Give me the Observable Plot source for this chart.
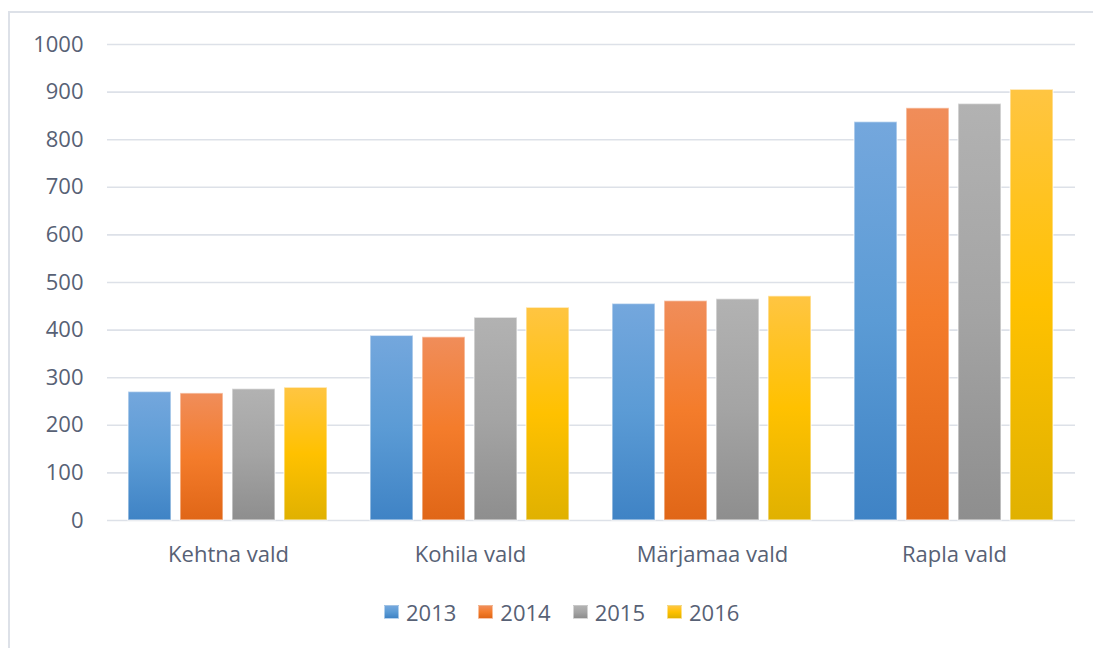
<!DOCTYPE html>
<html><head><meta charset="utf-8">
<script src="https://cdn.jsdelivr.net/npm/d3@7"></script>
<script src="https://cdn.jsdelivr.net/npm/@observablehq/plot@0.6"></script>
<style>
html,body{margin:0;padding:0;background:#fff;overflow:hidden;}
body{width:1093px;height:648px;position:relative;font-family:"Open Sans",sans-serif;}
#frame{position:absolute;left:8px;top:11px;width:1200px;height:800px;border:2px solid #dde1e8;box-sizing:border-box;}
#chart{position:absolute;left:0;top:0;}
#legend{position:absolute;top:597px;left:384px;display:flex;align-items:center;font-size:22px;color:#576175;}
.item{display:flex;align-items:center;margin-right:22px;}
.sw{width:15px;height:14px;margin-right:7px;box-sizing:border-box;border:1px solid rgba(255,255,255,0.5);}
</style></head>
<body>
<div id="frame"></div>
<div id="chart"></div>
<div id="legend"></div>
<script>
const categories = ["Kehtna vald", "Kohila vald", "Märjamaa vald", "Rapla vald"];
const years = ["2013", "2014", "2015", "2016"];
const v2013 = [270, 388, 455, 837];
const v2014 = [267, 385, 461, 866];
const v2015 = [276, 426, 465, 875];
const v2016 = [279, 447, 471, 905];
const yTicks = [0, 100, 200, 300, 400, 500, 600, 700, 800, 900, 1000];
const gradients = {
  "2013": ["#74a7dd", "#5b9bd5", "#3f83c5"],
  "2014": ["#f08d5a", "#f47c2b", "#e06617"],
  "2015": ["#b2b2b2", "#a4a4a4", "#8e8e8e"],
  "2016": ["#ffc542", "#ffc100", "#e0b100"]
};

const series = [v2013, v2014, v2015, v2016];
const data = [];
categories.forEach((c, i) => years.forEach((y, j) => data.push({cat: c, year: y, value: series[j][i]})));

const textColor = "#576175";
const chart = Plot.plot({
  width: 1093,
  height: 580,
  marginLeft: 106,
  marginRight: 18,
  marginTop: 44,
  marginBottom: 60,
  style: {fontFamily: "Open Sans", color: textColor, background: "transparent"},
  fx: {domain: categories, padding: 0, label: null},
  x: {domain: years, paddingInner: 0.17, paddingOuter: 0.41, axis: null},
  y: {domain: [0, 1000], label: null},
  color: {domain: years, range: years.map(y => `url(#g${y})`)},
  marks: [
    Plot.gridY(yTicks, {stroke: "#dde1e8", strokeOpacity: 1, strokeWidth: 1.6}),
    Plot.axisY(yTicks, {tickSize: 0, tickPadding: 24, fontSize: 22, label: null, tickFormat: d => String(d)}),
    Plot.axisFx({anchor: "bottom", tickSize: 0, tickPadding: 26, fontSize: 22, label: null}),
    Plot.barY(data, {fx: "cat", x: "year", y: "value", fill: "year", stroke: "white", strokeOpacity: 0.55, strokeWidth: 1.5})
  ]
});

const svg = d3.select(chart);
const defs = svg.insert("defs", ":first-child");
years.forEach(y => {
  const g = defs.append("linearGradient").attr("id", "g" + y).attr("x1", 0).attr("y1", 0).attr("x2", 0).attr("y2", 1);
  const c = gradients[y];
  g.append("stop").attr("offset", "0%").attr("stop-color", c[0]);
  g.append("stop").attr("offset", "50%").attr("stop-color", c[1]);
  g.append("stop").attr("offset", "100%").attr("stop-color", c[2]);
});
document.getElementById("chart").appendChild(chart);

const legend = d3.select("#legend");
years.forEach(y => {
  const c = gradients[y];
  const it = legend.append("div").attr("class", "item");
  it.append("div").attr("class", "sw").style("background", `linear-gradient(${c[0]}, ${c[1]}, ${c[2]})`);
  it.append("span").text(y);
});
</script>
</body></html>
